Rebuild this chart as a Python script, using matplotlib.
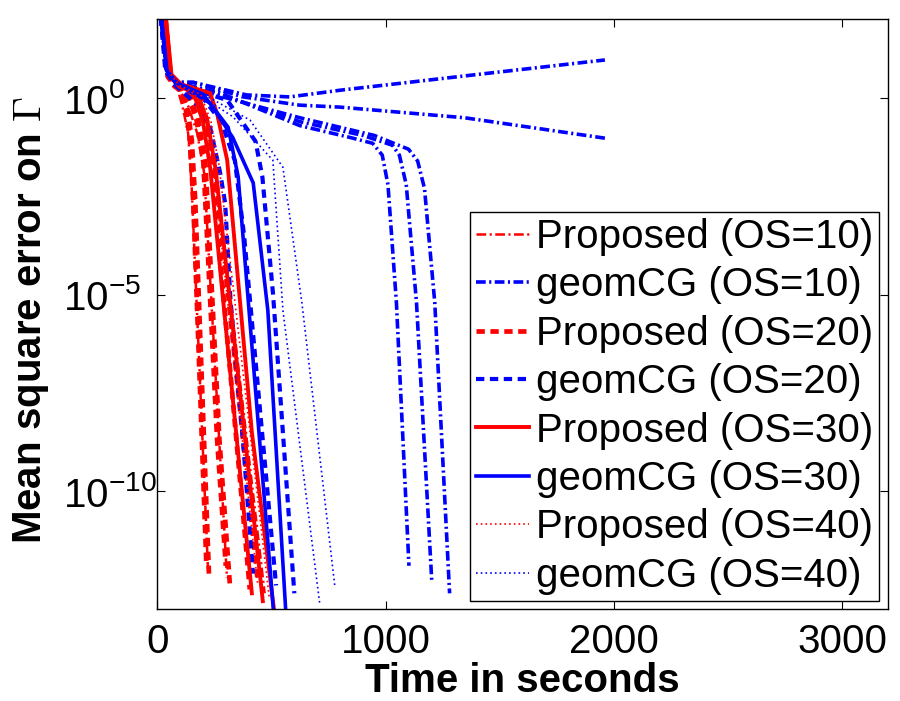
import matplotlib
matplotlib.use("Agg")
import matplotlib.pyplot as plt
import numpy as np

plt.rcParams['font.family'] = ['Liberation Sans', 'DejaVu Sans']
plt.rcParams['mathtext.fontset'] = 'cm'
plt.rcParams['lines.scale_dashes'] = False

# time (s) and log10(mean square error), several runs per setting
p10_t = [[28, 52, 85, 110, 135, 150, 222],
         [30, 55, 90, 135, 175, 205, 305],
         [30, 58, 95, 170, 215, 250, 470]]
p10_e = [[2.4, 0.6, 0.3, -0.2, -0.9, -2.2, -12.0],
         [2.4, 0.6, 0.3, -0.2, -0.9, -1.9, -12.2],
         [2.4, 0.6, 0.35, 0.0, -0.6, -1.6, -12.6]]

p20_t = [[25, 45, 75, 100, 125, 143, 157, 215],
         [27, 48, 80, 108, 133, 151, 166, 226],
         [28, 50, 85, 130, 170, 201, 262, 300],
         [28, 52, 88, 136, 178, 210, 272, 318],
         [30, 55, 95, 165, 205, 235, 405],
         [30, 58, 100, 175, 215, 248, 440]]
p20_e = [[2.4, 0.55, 0.3, 0.2, -0.3, -1.07, -2.6, -11.9],
         [2.4, 0.55, 0.3, 0.2, -0.3, -1.07, -2.6, -12.1],
         [2.4, 0.55, 0.3, 0.1, -0.5, -1.58, -8.7, -11.9],
         [2.4, 0.55, 0.3, 0.1, -0.5, -1.58, -8.7, -12.4],
         [2.4, 0.55, 0.3, 0.0, -0.5, -1.5, -12.5],
         [2.4, 0.55, 0.3, 0.0, -0.5, -1.5, -12.3]]

p30_t = [[30, 58, 95, 157, 200, 232, 414],
         [30, 60, 100, 175, 220, 255, 462],
         [32, 62, 105, 231, 262, 306, 414, 515]]
p30_e = [[2.4, 0.6, 0.3, 0.15, -0.6, -1.8, -12.6],
         [2.4, 0.6, 0.3, 0.15, -0.6, -1.8, -12.8],
         [2.4, 0.6, 0.35, 0.13, -0.4, -1.58, -8.5, -13.2]]

p40_t = [[30, 58, 98, 165, 210, 245, 440],
         [32, 60, 102, 190, 235, 270, 490]]
p40_e = [[2.4, 0.6, 0.3, 0.1, -0.6, -1.7, -12.4],
         [2.4, 0.6, 0.3, 0.1, -0.6, -1.7, -12.7]]

g10_t = [[12, 40, 80, 157, 391, 580, 800, 1400, 1960],
         [12, 40, 80, 157, 375, 624, 800, 1345, 1960],
         [12, 40, 80, 150, 274, 624, 843, 943, 985, 1010, 1047, 1102],
         [12, 40, 80, 150, 274, 624, 900, 1030, 1060, 1090, 1135, 1202],
         [12, 40, 80, 150, 274, 624, 950, 1100, 1140, 1170, 1215, 1280]]
g10_e = [[2.4, 0.7, 0.4, 0.4, 0.08, 0.03, 0.2, 0.6, 0.97],
         [2.4, 0.7, 0.4, 0.4, 0.03, -0.18, -0.23, -0.5, -1.02],
         [2.4, 0.7, 0.4, 0.3, 0.13, -0.7, -1.0, -1.15, -1.45, -2.2, -5.2, -11.9],
         [2.4, 0.7, 0.4, 0.3, 0.1, -0.6, -0.95, -1.2, -1.45, -2.2, -5.2, -12.3],
         [2.4, 0.7, 0.4, 0.3, 0.05, -0.5, -0.95, -1.3, -1.6, -2.3, -5.2, -12.6]]

g20_t = [[10, 35, 75, 180, 231, 275, 297, 320, 375, 419],
         [10, 38, 80, 200, 280, 340, 380, 520],
         [10, 40, 85, 306, 430, 460, 507, 600]]
g20_e = [[2.4, 0.7, 0.35, -0.2, -0.74, -1.9, -2.67, -5.1, -8.7, -12.1],
         [2.4, 0.7, 0.35, 0.0, -0.6, -1.6, -3.5, -12.4],
         [2.4, 0.7, 0.35, -0.05, -1.1, -2.0, -5.0, -12.6]]

g30_t = [[12, 40, 80, 200, 310, 354, 515],
         [12, 42, 85, 231, 330, 420, 484, 565]]
g30_e = [[2.4, 0.7, 0.4, 0.1, -0.74, -2.0, -13.5],
         [2.4, 0.7, 0.4, -0.13, -1.0, -2.16, -5.4, -13.3]]

g40_t = [[12, 40, 85, 180, 332, 506, 550, 712],
         [12, 42, 90, 200, 406, 550, 633, 777]]
g40_e = [[2.4, 0.7, 0.35, 0.1, -0.48, -1.58, -5.4, -12.9],
         [2.4, 0.7, 0.35, 0.1, -0.56, -1.76, -5.2, -12.4]]

labels = ['Proposed (OS=10)', 'geomCG (OS=10)', 'Proposed (OS=20)', 'geomCG (OS=20)',
          'Proposed (OS=30)', 'geomCG (OS=30)', 'Proposed (OS=40)', 'geomCG (OS=40)']
times = [p10_t, g10_t, p20_t, g20_t, p30_t, g30_t, p40_t, g40_t]
errors = [p10_e, g10_e, p20_e, g20_e, p30_e, g30_e, p40_e, g40_e]

red, blue = (1, 0, 0), (0, 0, 1)
dashdot = (0, (7, 2.5, 1.5, 2.5))
dashed = (0, (6, 4))
dotted = (0, (1.2, 2.2))
styles = [(red, dashdot, 1.8), (blue, dashdot, 2.6),
          (red, dashed, 3.4), (blue, dashed, 3.0),
          (red, '-', 2.8), (blue, '-', 2.6),
          (red, dotted, 1.2), (blue, dotted, 1.2)]

fig = plt.figure(figsize=(9, 7.01), dpi=100)
ax = fig.add_axes([0.1748, 0.1312, 0.8119, 0.841])

for lab, ts, es, (col, ls, lw) in zip(labels, times, errors, styles):
    for i, (t, e) in enumerate(zip(ts, es)):
        ax.plot(t, 10.0 ** np.asarray(e), color=col, linestyle=ls, linewidth=lw,
                label=lab if i == 0 else '_nolegend_')

ax.set_yscale('log')
ax.set_xlim(0, 3200)
ax.set_ylim(1e-13, 1e2)
ax.set_xticks([0, 1000, 2000, 3000])
ax.set_yticks([1e0, 1e-5, 1e-10])
ax.yaxis.set_minor_locator(matplotlib.ticker.NullLocator())
ax.tick_params(direction='in', length=6, width=0.8, top=True, right=True, labelsize=29)
ax.tick_params(axis='y', pad=67.7)
ax.tick_params(axis='x', pad=10)
plt.setp(ax.get_yticklabels(), ha='left')
for sp in ax.spines.values():
    sp.set_linewidth(1.0)

ax.set_xlabel('Time in seconds', fontsize=29, fontweight='bold', labelpad=1)
ax.set_ylabel(r'Mean square error on $\Gamma$', fontsize=29, fontweight='bold')
ax.yaxis.set_label_coords(-0.146, 0.49)

leg = ax.legend(loc='lower right', bbox_to_anchor=(0.988, 0.0136), fontsize=29,
                frameon=True, fancybox=False, edgecolor='k', framealpha=1,
                borderpad=0.15, labelspacing=0.26, handlelength=1.3,
                handletextpad=0.18, borderaxespad=0)
leg.get_frame().set_linewidth(1.0)

fig.savefig('out.png', dpi=100)
